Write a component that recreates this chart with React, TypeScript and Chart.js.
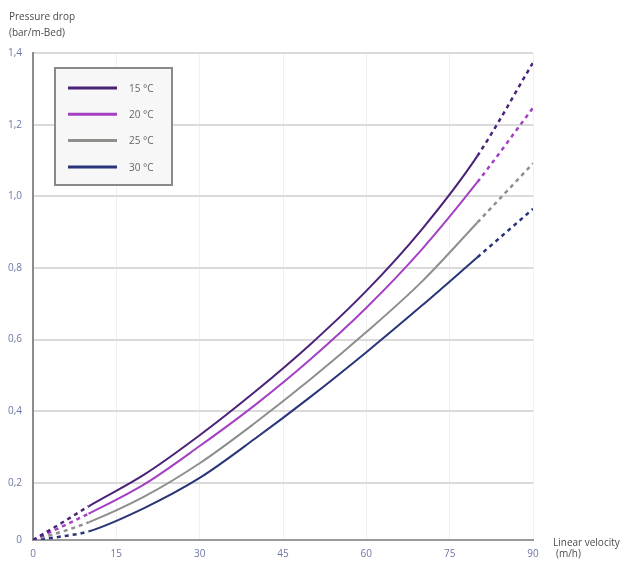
import React, { useEffect, useRef } from "react";
import { Chart, registerables, LinearScale } from "chart.js";

Chart.register(...registerables);

// ---- data ----
const velocity = [0, 5, 10, 20, 30, 40, 50, 60, 70, 80, 90];
const drop15 = [0, 0.058, 0.118, 0.223, 0.333, 0.455, 0.588, 0.736, 0.908, 1.113, 1.373];
const drop20 = [0, 0.045, 0.092, 0.195, 0.303, 0.418, 0.546, 0.689, 0.852, 1.04, 1.247];
const drop25 = [0, 0.028, 0.062, 0.152, 0.255, 0.368, 0.49, 0.621, 0.762, 0.927, 1.092];
const drop30 = [0, 0.012, 0.03, 0.112, 0.214, 0.324, 0.441, 0.565, 0.695, 0.83, 0.965];
const seriesLabels = ["15 °C", "20 °C", "25 °C", "30 °C"];
const seriesColors = ["#4a2379", "#a540c4", "#8c8f8a", "#293479"];
const xTickStep = 15;
const yTickStep = 0.2;
const xMax = 90;
const yMax = 1.4;
const solidFrom = 10;
const solidTo = 80;
const yTitle = ["Pressure drop", "(bar/m-Bed)"];
const xTitle = ["Linear velocity", "(m/h)"];

// ---- axis with a compressed first interval (as in the reference) ----
const LOW = 57 / 71.6;
const warp = (v: number) => (v < 0.2 ? v * LOW : 0.2 * LOW + (v - 0.2));
const unwarp = (u: number) => (u < 0.2 * LOW ? u / LOW : 0.2 + (u - 0.2 * LOW));

class WarpScale extends LinearScale {
  static id = "warp";
  getPixelForValue(value: number) {
    if (value === null || value === undefined) return NaN;
    const a = warp(this.min);
    const b = warp(this.max);
    return this.getPixelForDecimal((warp(value) - a) / (b - a));
  }
  getValueForPixel(pixel: number) {
    const a = warp(this.min);
    const b = warp(this.max);
    const d = this.getDecimalForPixel(pixel);
    return unwarp(a + d * (b - a));
  }
}
Chart.register(WarpScale as any);

const FONT = "'Open Sans', 'DejaVu Sans', sans-serif";

const decorPlugin = {
  id: "decor",
  afterDraw(chart: any) {
    const ctx = chart.ctx;
    ctx.save();
    // axis titles
    ctx.fillStyle = "#4a4a4a";
    ctx.font = `10px ${FONT}`;
    ctx.textAlign = "left";
    ctx.textBaseline = "middle";
    ctx.fillText(yTitle[0], 9, 17);
    ctx.fillText(yTitle[1], 9, 33);
    const xs = chart.scales.x;
    ctx.fillText(xTitle[0], xs.right + 20, xs.top + 3);
    ctx.fillText(xTitle[1], xs.right + 23, xs.top + 14);

    // legend box
    const bx = 55, by = 68, bw = 117, bh = 117;
    ctx.fillStyle = "#f7f7f7";
    ctx.fillRect(bx, by, bw, bh);
    ctx.strokeStyle = "#8a8a8a";
    ctx.lineWidth = 2;
    ctx.strokeRect(bx, by, bw, bh);
    chart.data.datasets.forEach((ds: any, i: number) => {
      const y = 88 + i * 26.3;
      ctx.strokeStyle = ds.borderColor;
      ctx.lineWidth = 3;
      ctx.beginPath();
      ctx.moveTo(68, y);
      ctx.lineTo(117, y);
      ctx.stroke();
      ctx.fillStyle = "#666";
      ctx.font = `10px ${FONT}`;
      ctx.textAlign = "left";
      ctx.textBaseline = "middle";
      ctx.fillText(ds.label, 129, y + 1);
    });
    ctx.restore();
  },
};

export default function App() {
  const ref = useRef<HTMLCanvasElement | null>(null);
  useEffect(() => {
    if (!ref.current) return;
    const series = [drop15, drop20, drop25, drop30];
    const chart = new Chart(ref.current, {
      type: "line",
      data: {
        datasets: series.map((arr, i) => ({
          label: seriesLabels[i],
          data: velocity.map((x, j) => ({ x, y: arr[j] })),
          borderColor: seriesColors[i],
          backgroundColor: seriesColors[i],
          borderWidth: 2,
          pointRadius: 0,
          cubicInterpolationMode: "monotone" as const,
          segment: {
            borderDash: (c: any) =>
              c.p0.parsed.x < solidFrom || c.p0.parsed.x >= solidTo ? [4, 4] : undefined,
            borderWidth: (c: any) =>
              c.p0.parsed.x < solidFrom || c.p0.parsed.x >= solidTo ? 2.5 : 2,
          },
        })),
      },
      options: {
        responsive: false,
        animation: false,
        devicePixelRatio: 1,
        layout: { padding: { top: 53, right: 100, left: 0, bottom: 0 } },
        plugins: { legend: { display: false }, tooltip: { enabled: false } },
        scales: {
          x: {
            type: "linear",
            min: 0,
            max: xMax,
            afterFit: (s: any) => {
              s.height = 21;
            },
            ticks: {
              stepSize: xTickStep,
              color: "#6e76a8",
              font: { family: FONT, size: 10 },
              padding: 8,
            },
            grid: { color: "#f0f0f0", lineWidth: 1, drawTicks: false },
            border: { color: "#9a9a9a", width: 2 },
          },
          y: {
            type: "warp" as any,
            min: 0,
            max: yMax,
            afterFit: (s: any) => {
              s.width = 33;
            },
            ticks: {
              stepSize: yTickStep,
              color: "#6e76a8",
              font: { family: FONT, size: 10 },
              padding: 11,
              callback: (v: any) => (v === 0 ? "0" : Number(v).toFixed(1).replace(".", ",")),
            },
            grid: { color: "#dadada", lineWidth: 2, drawTicks: false },
            border: { color: "#8c8c8c", width: 2 },
          },
        },
      },
      plugins: [decorPlugin],
    });
    return () => chart.destroy();
  }, []);
  return (
    <div style={{ position: "absolute", left: 0, top: 0, width: 633, height: 561, background: "#fff" }}>
      <canvas ref={ref} width={633} height={561} style={{ width: 633, height: 561 }} />
    </div>
  );
}
